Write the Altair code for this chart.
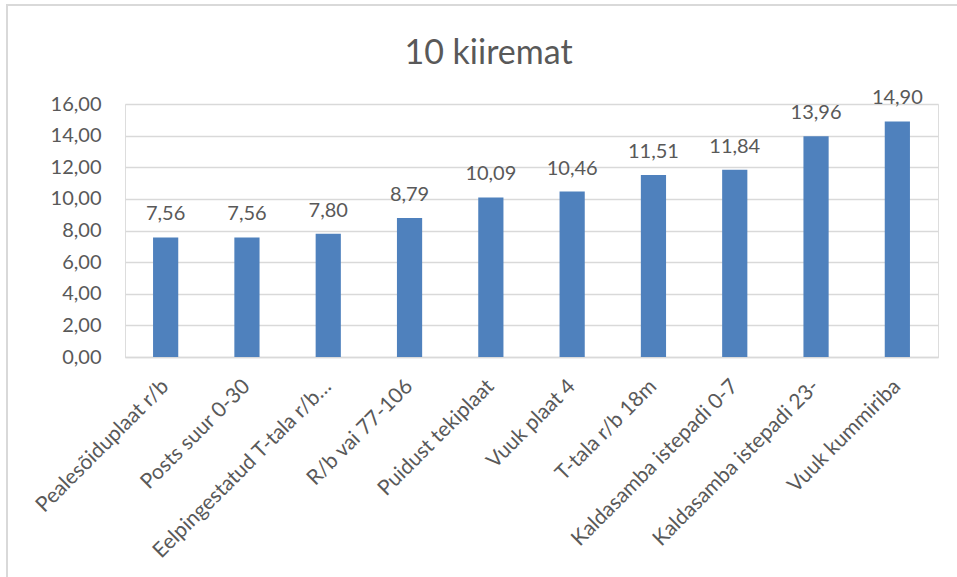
import altair as alt
import pandas as pd

# Ten fastest items and their values
categories = [
    "Pealesõiduplaat r/b",
    "Posts suur 0-30",
    "Eelpingestatud T-tala r/b…",
    "R/b vai 77-106",
    "Puidust tekiplaat",
    "Vuuk plaat 4",
    "T-tala r/b 18m",
    "Kaldasamba istepadi 0-7",
    "Kaldasamba istepadi 23-",
    "Vuuk kummiriba",
]
values = [7.56, 7.56, 7.80, 8.79, 10.09, 10.46, 11.51, 11.84, 13.96, 14.90]
y_ticks = [0, 2, 4, 6, 8, 10, 12, 14, 16]

df = pd.DataFrame({"name": categories, "value": values})

FONT = "Lato"
TEXT = "#595959"
GRID = "#D9D9D9"
BAR = "#4F81BD"

base = alt.Chart(df).transform_calculate(
    label="replace(format(datum.value, '.2f'), '.', ',')"
)

x_enc = alt.X(
    "name:N",
    sort=categories,
    title=None,
    scale=alt.Scale(paddingInner=0.69, paddingOuter=0.345),
    axis=alt.Axis(
        labelAngle=-45,
        labelAlign="right",
        labelBaseline="middle",
        labelPadding=26,
        labelFont=FONT,
        labelFontSize=21,
        labelColor=TEXT,
        labelLimit=400,
        labelOverlap=False,
        ticks=False,
        domainColor=GRID,
        domainWidth=1.5,
        grid=False,
    ),
)

y_enc = alt.Y(
    "value:Q",
    title=None,
    scale=alt.Scale(domain=[0, 16], nice=False),
    axis=alt.Axis(
        values=y_ticks,
        labelExpr="replace(format(datum.value, '.2f'), '.', ',')",
        labelFont=FONT,
        labelFontSize=20,
        labelColor=TEXT,
        labelPadding=24,
        labelOverlap=False,
        ticks=False,
        domain=False,
        grid=True,
        gridColor=GRID,
        gridWidth=1.3,
    ),
)

bars = base.mark_bar(color=BAR).encode(x=x_enc, y=y_enc)

labels = base.mark_text(
    font=FONT, fontSize=20, color=TEXT, baseline="alphabetic", dy=-17
).encode(x=x_enc, y=y_enc, text="label:N")

# Outer chart frame
frame = alt.Chart(df).mark_rect(
    fill=None, stroke=GRID, strokeWidth=1.5
).encode(
    x=alt.value(-118), x2=alt.value(850), y=alt.value(-99), y2=alt.value(490)
)

chart = (
    alt.layer(frame, bars, labels)
    .properties(
        width=813,
        height=253,
        autosize=alt.AutoSizeParams(type="none"),
        padding={"left": 125, "top": 104, "right": 19, "bottom": 220},
        title=alt.TitleParams(
            "10 kiiremat",
            font=FONT,
            fontSize=34,
            fontWeight="normal",
            color=TEXT,
            anchor="middle",
            frame="group",
            baseline="alphabetic",
            offset=0,
            dx=-43,
            dy=94,
        ),
    )
    .configure_view(stroke=None)
    .configure(background="white")
)

chart.save("out.html", embed_options={"renderer": "svg", "actions": False})
